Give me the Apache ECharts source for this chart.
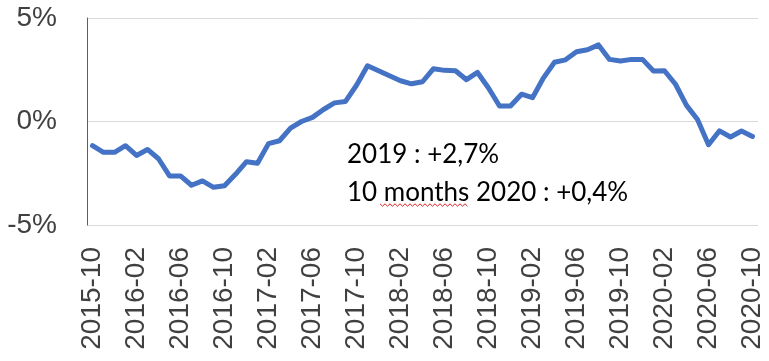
<!DOCTYPE html>
<html>
<head>
<meta charset="utf-8">
<script src="https://cdn.jsdelivr.net/npm/echarts@6/dist/echarts.min.js"></script>
<style>
  html, body { margin: 0; padding: 0; background: #fff; }
  #chart { width: 769px; height: 361px; }
</style>
</head>
<body>
<div id="chart"></div>
<script>
// Monthly year-on-year change, %
const months = [
  '2015-10','2015-11','2015-12',
  '2016-01','2016-02','2016-03','2016-04','2016-05','2016-06','2016-07','2016-08','2016-09','2016-10','2016-11','2016-12',
  '2017-01','2017-02','2017-03','2017-04','2017-05','2017-06','2017-07','2017-08','2017-09','2017-10','2017-11','2017-12',
  '2018-01','2018-02','2018-03','2018-04','2018-05','2018-06','2018-07','2018-08','2018-09','2018-10','2018-11','2018-12',
  '2019-01','2019-02','2019-03','2019-04','2019-05','2019-06','2019-07','2019-08','2019-09','2019-10','2019-11','2019-12',
  '2020-01','2020-02','2020-03','2020-04','2020-05','2020-06','2020-07','2020-08','2020-09','2020-10'
];

const changePct = [
  -1.17, -1.49, -1.49,
  -1.17, -1.64, -1.35, -1.80, -2.63, -2.63, -3.08, -2.87, -3.18, -3.10, -2.55, -1.94,
  -2.02, -1.07, -0.93, -0.32, 0.00, 0.20, 0.58, 0.90, 0.97, 1.75, 2.69, 2.45,
  2.21, 1.97, 1.82, 1.92, 2.55, 2.47, 2.45, 2.02, 2.37, 1.62, 0.75, 0.75,
  1.32, 1.15, 2.11, 2.86, 2.98, 3.37, 3.47, 3.70, 3.00, 2.92, 3.00, 3.00,
  2.44, 2.45, 1.80, 0.78, 0.10, -1.12, -0.45, -0.75, -0.46, -0.72
];

const yTicks = { min: -5, max: 5, step: 5 };

const noteLines = ['2019 : +2,7%', '10 months 2020 : +0,4%'];

// red wavy underline under the word "months"
function wavy(x0, x1, y, amp, step) {
  const pts = [];
  let up = true;
  for (let x = x0; x <= x1; x += step) {
    pts.push([x, up ? y - amp : y + amp]);
    up = !up;
  }
  return pts;
}

const chart = echarts.init(document.getElementById('chart'), null, { renderer: 'canvas' });

chart.setOption({
  animation: false,
  grid: { left: 87, right: 11, top: 18, bottom: 136, containLabel: false },
  xAxis: {
    type: 'category',
    data: months,
    boundaryGap: true,
    axisLine: { show: false },
    axisTick: { show: false },
    axisLabel: {
      interval: 3,
      rotate: 90,
      margin: 22,
      fontFamily: 'Liberation Sans, Arial, sans-serif',
      fontSize: 28,
      color: '#404040'
    },
    splitLine: { show: false }
  },
  yAxis: {
    type: 'value',
    min: yTicks.min,
    max: yTicks.max,
    interval: yTicks.step,
    axisLine: { show: true, lineStyle: { color: '#3A62AA', width: 1 } },
    axisTick: { show: false },
    axisLabel: {
      margin: 30,
      fontFamily: 'Liberation Sans, Arial, sans-serif',
      fontSize: 28,
      color: '#404040',
      formatter: v => v + '%'
    },
    splitLine: { show: true, lineStyle: { color: '#D9D9D9', width: 1 } }
  },
  series: [{
    type: 'line',
    data: changePct,
    symbol: 'none',
    smooth: false,
    lineStyle: { color: '#4472C4', width: 5, cap: 'round', join: 'round' }
  }],
  graphic: [
    {
      type: 'text', left: 347, top: 142,
      style: { text: noteLines[0], font: '26px Lato, "Noto Sans", sans-serif', fill: '#000' }
    },
    {
      type: 'text', left: 347, top: 180,
      style: { text: noteLines[1], font: '26px Lato, "Noto Sans", sans-serif', fill: '#000' }
    },
    {
      type: 'polyline',
      shape: { points: wavy(380, 469, 205, 1.2, 2.5) },
      style: { stroke: '#E02020', lineWidth: 1, fill: null }
    }
  ]
});
</script>
</body>
</html>
